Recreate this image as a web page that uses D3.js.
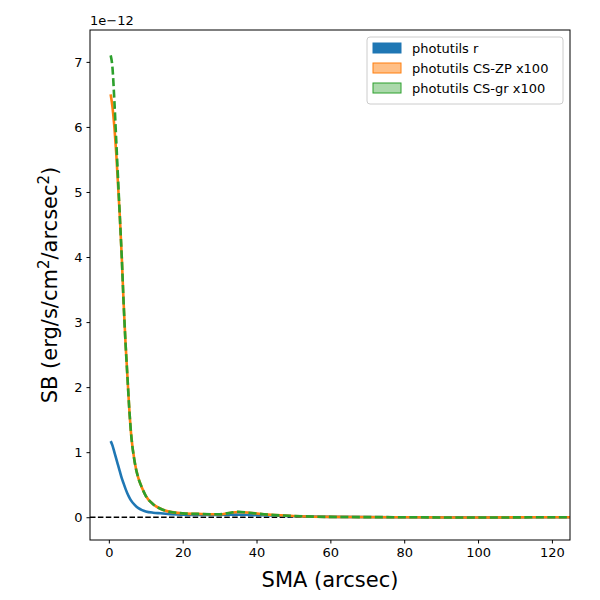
<!DOCTYPE html>
<html><head><meta charset="utf-8">
<script src="https://cdn.jsdelivr.net/npm/d3@7"></script>
<style>body{margin:0;background:#fff}</style>
</head><body><svg></svg>
<script>
// profiles in units of 1e-12, SMA in arcsec
const sma = [0.5, 1, 1.5, 2, 2.5, 3, 3.5, 4, 4.5, 5, 5.5, 6, 7, 8, 9, 10, 12, 14, 16, 20, 25, 30, 33, 35, 38, 42, 50, 60, 80, 100, 120, 135]
const blue = [1.17, 1.1, 1.0, 0.9, 0.8, 0.7, 0.6, 0.52, 0.44, 0.37, 0.31, 0.26, 0.19, 0.14, 0.11, 0.09, 0.07, 0.06, 0.05, 0.04, 0.035, 0.035, 0.04, 0.04, 0.035, 0.03, 0.015, 0.005, 0, -0.005, 0, 0]
const orange = [6.5, 6.3, 6.0, 5.6, 5.1, 4.6, 4.0, 3.3, 2.7, 2.2, 1.7, 1.3, 0.85, 0.6, 0.45, 0.33, 0.2, 0.13, 0.09, 0.06, 0.05, 0.045, 0.07, 0.08, 0.07, 0.045, 0.02, 0.005, 0, -0.005, 0, 0]
const green = [7.1, 6.9, 6.4, 5.8, 5.2, 4.6, 4.0, 3.3, 2.7, 2.2, 1.7, 1.3, 0.85, 0.6, 0.45, 0.33, 0.2, 0.13, 0.09, 0.06, 0.05, 0.045, 0.07, 0.085, 0.07, 0.045, 0.02, 0.005, 0, -0.005, 0, 0]

const margin = {left: 90, right: 30, top: 30, bottom: 60}
const width = 600, height = 600
const svg = d3.select('svg').attr('width', width).attr('height', height)
  .style('font-family', 'DejaVu Sans, sans-serif')

const x = d3.scaleLinear().domain([-5.1, 124.9]).range([margin.left, width - margin.right])
const y = d3.scaleLinear().domain([-0.35, 7.49]).range([height - margin.bottom, margin.top])

svg.append('defs').append('clipPath').attr('id', 'clip').append('rect')
  .attr('x', margin.left).attr('y', margin.top)
  .attr('width', width - margin.left - margin.right)
  .attr('height', height - margin.top - margin.bottom)

const xAxis = svg.append('g').attr('transform', `translate(0,${height - margin.bottom})`)
  .call(d3.axisBottom(x).tickValues(d3.range(0, 121, 20)).tickSize(3.5).tickPadding(4))
const yAxis = svg.append('g').attr('transform', `translate(${margin.left},0)`)
  .call(d3.axisLeft(y).tickValues(d3.range(0, 8)).tickSize(3.5).tickPadding(4))
for (const g of [xAxis, yAxis]) {
  g.selectAll('text').attr('font-size', 13).attr('font-family', 'DejaVu Sans, sans-serif').attr('fill', '#000')
  g.select('.domain').remove()
}

// zero line
svg.append('line').attr('x1', x(-5.1)).attr('x2', x(124.9)).attr('y1', y(0)).attr('y2', y(0))
  .attr('stroke', 'black').attr('stroke-width', 1.6).attr('stroke-dasharray', '5.5,2.4')

const line = d3.line().x((d, i) => x(sma[i])).y(d => y(d)).curve(d3.curveMonotoneX)
const plot = svg.append('g').attr('clip-path', 'url(#clip)')
plot.append('path').attr('d', line(blue)).attr('fill', 'none').attr('stroke', '#1f77b4').attr('stroke-width', 2.6)
plot.append('path').attr('d', line(orange)).attr('fill', 'none').attr('stroke', '#ff7f0e').attr('stroke-width', 2.6)
plot.append('path').attr('d', line(green)).attr('fill', 'none').attr('stroke', '#2ca02c').attr('stroke-width', 2.6)
  .attr('stroke-dasharray', '8,3.5')

// frame
svg.append('rect').attr('x', margin.left).attr('y', margin.top)
  .attr('width', width - margin.left - margin.right).attr('height', height - margin.top - margin.bottom)
  .attr('fill', 'none').attr('stroke', 'black').attr('stroke-width', 1)

svg.append('text').attr('x', margin.left).attr('y', margin.top - 5).attr('font-size', 13).text('1e\u221212')

svg.append('text').attr('x', (margin.left + width - margin.right) / 2).attr('y', 587)
  .attr('text-anchor', 'middle').attr('font-size', 21).text('SMA (arcsec)')
const yl = svg.append('text').attr('transform', `translate(57,${(margin.top + height - margin.bottom) / 2}) rotate(-90)`)
  .attr('text-anchor', 'middle').attr('font-size', 21)
yl.append('tspan').text('SB (erg/s/cm')
yl.append('tspan').attr('dy', -8).attr('font-size', 15).text('2')
yl.append('tspan').attr('dy', 8).text('/arcsec')
yl.append('tspan').attr('dy', -8).attr('font-size', 15).text('2')
yl.append('tspan').attr('dy', 8).text(')')

// legend
const legend = [
  {label: 'photutils r', color: '#1f77b4', opacity: 1},
  {label: 'photutils CS-ZP x100', color: '#ff7f0e', opacity: 0.5},
  {label: 'photutils CS-gr x100', color: '#2ca02c', opacity: 0.4}
]
const lg = svg.append('g').attr('transform', 'translate(367,37)')
lg.append('rect').attr('width', 196).attr('height', 67).attr('rx', 3)
  .attr('fill', 'white').attr('stroke', '#ccc')
legend.forEach((d, i) => {
  lg.append('rect').attr('x', 6).attr('y', 6 + i * 20).attr('width', 28).attr('height', 10)
    .attr('fill', d.color).attr('fill-opacity', d.opacity).attr('stroke', d.color)
  lg.append('text').attr('x', 45).attr('y', 16 + i * 20).attr('font-size', 13).text(d.label)
})
</script></body></html>
